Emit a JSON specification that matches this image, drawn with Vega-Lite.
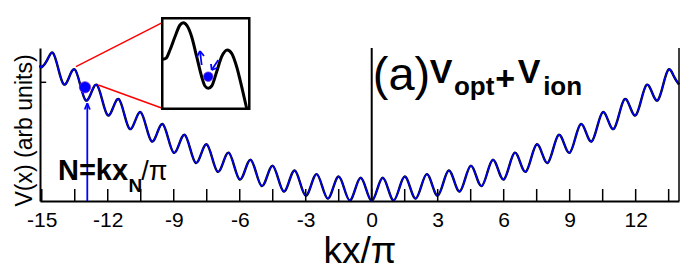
{
  "$schema": "https://vega.github.io/schema/vega-lite/v6.json",
  "width": 639,
  "height": 153,
  "autosize": {"type": "none"},
  "padding": {"left": 40, "top": 48, "right": 20, "bottom": 67},
  "config": {"font": "Liberation Sans", "view": {"stroke": null}},
  "layer": [
    {
      "data": {"values": [
        {"x": -15.08, "y": 135.5}, {"x": -15, "y": 133.9}, {"x": -14.75, "y": 141.1}, {"x": -14.5, "y": 148.3}, {"x": -14.25, "y": 132.4},
        {"x": -14, "y": 116.6}, {"x": -13.75, "y": 124.1}, {"x": -13.5, "y": 131.6}, {"x": -13.25, "y": 116.1},
        {"x": -13, "y": 100.6}, {"x": -12.75, "y": 108.3}, {"x": -12.5, "y": 116.2}, {"x": -12.25, "y": 100.9},
        {"x": -12, "y": 85.7}, {"x": -11.75, "y": 93.7}, {"x": -11.5, "y": 101.9}, {"x": -11.25, "y": 86.9},
        {"x": -11, "y": 72.0}, {"x": -10.75, "y": 80.4}, {"x": -10.5, "y": 88.8}, {"x": -10.25, "y": 74.1},
        {"x": -10, "y": 59.5}, {"x": -9.75, "y": 68.2}, {"x": -9.5, "y": 76.9}, {"x": -9.25, "y": 62.5},
        {"x": -9, "y": 48.2}, {"x": -8.75, "y": 57.2}, {"x": -8.5, "y": 66.2}, {"x": -8.25, "y": 52.1},
        {"x": -8, "y": 38.1}, {"x": -7.75, "y": 47.3}, {"x": -7.5, "y": 56.7}, {"x": -7.25, "y": 42.9},
        {"x": -7, "y": 29.2}, {"x": -6.75, "y": 38.7}, {"x": -6.5, "y": 48.3}, {"x": -6.25, "y": 34.8},
        {"x": -6, "y": 21.4}, {"x": -5.75, "y": 31.3}, {"x": -5.5, "y": 41.2}, {"x": -5.25, "y": 28.0},
        {"x": -5, "y": 14.9}, {"x": -4.75, "y": 25.0}, {"x": -4.5, "y": 35.2}, {"x": -4.25, "y": 22.3},
        {"x": -4, "y": 9.5}, {"x": -3.75, "y": 20.0}, {"x": -3.5, "y": 30.5}, {"x": -3.25, "y": 17.9},
        {"x": -3, "y": 5.4}, {"x": -2.75, "y": 16.1}, {"x": -2.5, "y": 26.9}, {"x": -2.25, "y": 14.6},
        {"x": -2, "y": 2.4}, {"x": -1.75, "y": 13.4}, {"x": -1.5, "y": 24.5}, {"x": -1.25, "y": 12.5},
        {"x": -1, "y": 0.6}, {"x": -0.75, "y": 11.9}, {"x": -0.5, "y": 23.3}, {"x": -0.25, "y": 11.6},
        {"x": 0, "y": 0},
        {"x": 0.25, "y": 11.6}, {"x": 0.5, "y": 23.3}, {"x": 0.75, "y": 11.9}, {"x": 1, "y": 0.6},
        {"x": 1.25, "y": 12.5}, {"x": 1.5, "y": 24.5}, {"x": 1.75, "y": 13.4}, {"x": 2, "y": 2.4},
        {"x": 2.25, "y": 14.6}, {"x": 2.5, "y": 26.9}, {"x": 2.75, "y": 16.1}, {"x": 3, "y": 5.4},
        {"x": 3.25, "y": 17.9}, {"x": 3.5, "y": 30.5}, {"x": 3.75, "y": 20.0}, {"x": 4, "y": 9.5},
        {"x": 4.25, "y": 22.3}, {"x": 4.5, "y": 35.2}, {"x": 4.75, "y": 25.0}, {"x": 5, "y": 14.9},
        {"x": 5.25, "y": 28.0}, {"x": 5.5, "y": 41.2}, {"x": 5.75, "y": 31.3}, {"x": 6, "y": 21.4},
        {"x": 6.25, "y": 34.8}, {"x": 6.5, "y": 48.3}, {"x": 6.75, "y": 38.7}, {"x": 7, "y": 29.2},
        {"x": 7.25, "y": 42.9}, {"x": 7.5, "y": 56.7}, {"x": 7.75, "y": 47.3}, {"x": 8, "y": 38.1},
        {"x": 8.25, "y": 52.1}, {"x": 8.5, "y": 66.2}, {"x": 8.75, "y": 57.2}, {"x": 9, "y": 48.2},
        {"x": 9.25, "y": 62.5}, {"x": 9.5, "y": 76.9}, {"x": 9.75, "y": 68.2}, {"x": 10, "y": 59.5},
        {"x": 10.25, "y": 74.1}, {"x": 10.5, "y": 88.8}, {"x": 10.75, "y": 80.4}, {"x": 11, "y": 72.0},
        {"x": 11.25, "y": 86.9}, {"x": 11.5, "y": 101.9}, {"x": 11.75, "y": 93.7}, {"x": 12, "y": 85.7},
        {"x": 12.25, "y": 100.9}, {"x": 12.5, "y": 116.2}, {"x": 12.75, "y": 108.3}, {"x": 13, "y": 100.6},
        {"x": 13.25, "y": 116.1}, {"x": 13.5, "y": 131.6}, {"x": 13.75, "y": 124.1}, {"x": 13.97, "y": 116.5}
      ]},
      "layer": [
        {
          "mark": {"type": "line", "interpolate": "natural", "color": "black", "strokeWidth": 2.4},
          "encoding": {
            "x": {"field": "x", "type": "quantitative",
              "scale": {"domain": [-15.08, 13.97], "nice": false, "zero": false},
              "axis": {
                "title": "kx/π", "titleFontSize": 37, "titleFontWeight": "normal", "titleColor": "black",
                "titleBaseline": "alphabetic", "titleY": 61, "titleX": 319.5, "titleAlign": "center",
                "values": [-15, -12, -9, -6, -3, 0, 3, 6, 9, 12],
                "labelExpr": "'' + datum.value",
                "labelFontSize": 21, "labelColor": "black", "labelBaseline": "alphabetic", "labelPadding": 25,
                "labelFlush": false, "labelOverlap": false,
                "ticks": false,
                "domainColor": "black", "domainWidth": 2, "grid": false
              }
            },
            "y": {"field": "y", "type": "quantitative",
              "scale": {"domain": [0, 153], "nice": false, "zero": false},
              "axis": {
                "title": "V(x) (arb units)", "titleFontSize": 23, "titleFontWeight": "normal", "titleColor": "black",
                "titleAngle": -90, "titleBaseline": "alphabetic", "titleX": -9, "titleY": 82, "titleAlign": "center",
                "values": [118.7], "labels": false, "ticks": false,
                "domainColor": "black", "domainWidth": 2, "grid": false
              }
            }
          }
        },
        {
          "mark": {"type": "line", "interpolate": "natural", "color": "#0000ff", "strokeWidth": 1.5},
          "encoding": {
            "x": {"field": "x", "type": "quantitative"},
            "y": {"field": "y", "type": "quantitative"}
          }
        }
      ]
    },
    {
      "data": {"values": [
        {"x": -15}, {"x": -13.5}, {"x": -12}, {"x": -10.5}, {"x": -9}, {"x": -7.5}, {"x": -6}, {"x": -4.5}, {"x": -3}, {"x": -1.5},
        {"x": 0}, {"x": 1.5}, {"x": 3}, {"x": 4.5}, {"x": 6}, {"x": 7.5}, {"x": 9}, {"x": 10.5}, {"x": 12}, {"x": 13.5}
      ]},
      "mark": {"type": "rule", "color": "black", "strokeWidth": 1.5},
      "encoding": {
        "x": {"field": "x", "type": "quantitative"},
        "y": {"datum": 0},
        "y2": {"datum": 12}
      }
    },
    {
      "data": {"values": [{"x": -15.08, "x2": -14.8, "y": 118.7}]},
      "mark": {"type": "rule", "color": "black", "strokeWidth": 1.5},
      "encoding": {
        "x": {"field": "x", "type": "quantitative"},
        "x2": {"field": "x2"},
        "y": {"field": "y", "type": "quantitative"}
      }
    },
    {
      "data": {"values": [{"x": 0}]},
      "mark": {"type": "rule", "color": "black", "strokeWidth": 2},
      "encoding": {"x": {"field": "x", "type": "quantitative"}}
    },
    {
      "data": {"values": [{"x": 13.97}]},
      "mark": {"type": "rule", "color": "black", "strokeWidth": 1.5},
      "encoding": {"x": {"field": "x", "type": "quantitative"}}
    },
    {
      "data": {"values": [
        {"x": -13.444, "y": 134.3, "x2": -9.521, "y2": 178.3},
        {"x": -12.43, "y": 116, "x2": -9.521, "y2": 92.7}
      ]},
      "mark": {"type": "rule", "color": "#ff0000", "strokeWidth": 1.5},
      "encoding": {
        "x": {"field": "x", "type": "quantitative"},
        "y": {"field": "y", "type": "quantitative"},
        "x2": {"field": "x2"},
        "y2": {"field": "y2"}
      }
    },
    {
      "data": {"values": [{"x": -9.522, "x2": -5.566, "y": 92.3, "y2": 182.8}]},
      "mark": {"type": "rect", "fill": "white", "stroke": "black", "strokeWidth": 2.5},
      "encoding": {
        "x": {"field": "x", "type": "quantitative"},
        "y": {"field": "y", "type": "quantitative"},
        "x2": {"field": "x2"},
        "y2": {"field": "y2"}
      }
    },
    {
      "data": {"values": [
        {"x": -9.503, "y": 141.7}, {"x": -9.353, "y": 142.7}, {"x": -9.171, "y": 151}, {"x": -8.944, "y": 164.3},
        {"x": -8.716, "y": 176}, {"x": -8.566, "y": 178.3}, {"x": -8.385, "y": 175}, {"x": -8.185, "y": 164.3},
        {"x": -7.957, "y": 144.3}, {"x": -7.73, "y": 124.3}, {"x": -7.58, "y": 115}, {"x": -7.43, "y": 112.7},
        {"x": -7.275, "y": 115}, {"x": -7.048, "y": 129.3}, {"x": -6.821, "y": 144.3}, {"x": -6.566, "y": 151},
        {"x": -6.366, "y": 147.7}, {"x": -6.139, "y": 134.3}, {"x": -5.912, "y": 114.3}, {"x": -5.685, "y": 92.7}
      ]},
      "mark": {"type": "line", "interpolate": "monotone", "color": "black", "strokeWidth": 3},
      "encoding": {
        "x": {"field": "x", "type": "quantitative"},
        "y": {"field": "y", "type": "quantitative"}
      }
    },
    {
      "data": {"values": [
        {"x": -12.93, "y": 0, "x2": -12.93, "y2": 97.7},
        {"x": -13.05, "y": 91.5, "x2": -12.93, "y2": 97.7},
        {"x": -12.81, "y": 91.5, "x2": -12.93, "y2": 97.7},
        {"x": -7.73, "y": 136, "x2": -7.807, "y2": 150},
        {"x": -7.944, "y": 144, "x2": -7.807, "y2": 150},
        {"x": -7.625, "y": 145, "x2": -7.807, "y2": 150},
        {"x": -6.975, "y": 141, "x2": -7.275, "y2": 131},
        {"x": -7.307, "y": 137, "x2": -7.275, "y2": 131},
        {"x": -7.035, "y": 133, "x2": -7.275, "y2": 131}
      ]},
      "mark": {"type": "rule", "color": "#0000ff", "strokeWidth": 1.8},
      "encoding": {
        "x": {"field": "x", "type": "quantitative"},
        "y": {"field": "y", "type": "quantitative"},
        "x2": {"field": "x2"},
        "y2": {"field": "y2"}
      }
    },
    {
      "data": {"values": [{"x": -13.035, "y": 113.7}]},
      "mark": {"type": "point", "filled": true, "size": 127, "fill": "#0000ff", "stroke": "#7a2ad8", "strokeWidth": 0.8, "opacity": 1},
      "encoding": {
        "x": {"field": "x", "type": "quantitative"},
        "y": {"field": "y", "type": "quantitative"}
      }
    },
    {
      "data": {"values": [{"x": -7.43, "y": 124.3}]},
      "mark": {"type": "point", "filled": true, "size": 90, "fill": "#0000ff", "stroke": "#7a2ad8", "strokeWidth": 0.8, "opacity": 1},
      "encoding": {
        "x": {"field": "x", "type": "quantitative"},
        "y": {"field": "y", "type": "quantitative"}
      }
    },
    {
      "data": {"values": [{"x": 0.05, "y": 111, "t": "(a)"}]},
      "mark": {"type": "text", "align": "left", "baseline": "alphabetic", "fontSize": 47, "fontWeight": "normal", "color": "black"},
      "encoding": {"x": {"field": "x", "type": "quantitative"}, "y": {"field": "y", "type": "quantitative"}, "text": {"field": "t"}}
    },
    {
      "data": {"values": [{"x": 2.634, "y": 117.7, "t": "V"}, {"x": 6.634, "y": 117.7, "t": "V"}, {"x": 5.62, "y": 111, "t": "+"}]},
      "mark": {"type": "text", "align": "left", "baseline": "alphabetic", "fontSize": 34, "fontWeight": "bold", "color": "black"},
      "encoding": {"x": {"field": "x", "type": "quantitative"}, "y": {"field": "y", "type": "quantitative"}, "text": {"field": "t"}}
    },
    {
      "data": {"values": [{"x": 3.738, "y": 106, "t": "opt"}, {"x": 7.793, "y": 106, "t": "ion"}]},
      "mark": {"type": "text", "align": "left", "baseline": "alphabetic", "fontSize": 26, "fontWeight": "bold", "color": "black"},
      "encoding": {"x": {"field": "x", "type": "quantitative"}, "y": {"field": "y", "type": "quantitative"}, "text": {"field": "t"}}
    },
    {
      "data": {"values": [{"x": -14.262, "y": 21, "t": "N=kx"}]},
      "mark": {"type": "text", "align": "left", "baseline": "alphabetic", "fontSize": 29, "fontWeight": "bold", "color": "black"},
      "encoding": {"x": {"field": "x", "type": "quantitative"}, "y": {"field": "y", "type": "quantitative"}, "text": {"field": "t"}}
    },
    {
      "data": {"values": [{"x": -11.052, "y": 9.3, "t": "N"}]},
      "mark": {"type": "text", "align": "left", "baseline": "alphabetic", "fontSize": 19, "fontWeight": "bold", "color": "black"},
      "encoding": {"x": {"field": "x", "type": "quantitative"}, "y": {"field": "y", "type": "quantitative"}, "text": {"field": "t"}}
    },
    {
      "data": {"values": [{"x": -10.48, "y": 21, "t": "/π"}]},
      "mark": {"type": "text", "align": "left", "baseline": "alphabetic", "fontSize": 27, "fontWeight": "normal", "color": "black"},
      "encoding": {"x": {"field": "x", "type": "quantitative"}, "y": {"field": "y", "type": "quantitative"}, "text": {"field": "t"}}
    }
  ]
}
